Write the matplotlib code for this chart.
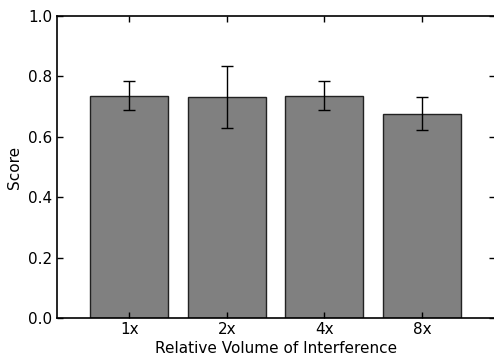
import matplotlib
matplotlib.use("Agg")
import matplotlib.pyplot as plt
import numpy as np

categories = ["1x", "2x", "4x", "8x"]
scores = [0.736, 0.733, 0.736, 0.676]
errors = [0.048, 0.103, 0.048, 0.055]
yticks = [0.0, 0.2, 0.4, 0.6, 0.8, 1.0]

fig = plt.figure(figsize=(4.94, 3.56), dpi=100)
ax = fig.add_axes([57/494, 38/356, 438/494, 302/356])
x = np.arange(len(categories))
ax.bar(x, scores, width=0.8, color="#808080", edgecolor="#222222", linewidth=1.0,
       yerr=errors, capsize=4, error_kw=dict(ecolor="black", elinewidth=1.0, capthick=1.0))
ax.set_xticks(x)
ax.set_xticklabels(categories, fontsize=11)
ax.set_yticks(yticks)
ax.set_yticklabels([f"{v:.1f}" for v in yticks], fontsize=11)
ax.set_xlim(-0.74, 3.75)
ax.set_ylim(0, 1.0)
ax.tick_params(direction="in", top=True, right=True, length=4, width=1)
ax.tick_params(axis="x", pad=3)
ax.set_xlabel("Relative Volume of Interference", fontsize=11, labelpad=3)
ax.set_ylabel("Score", fontsize=11)
for s in ax.spines.values():
    s.set_linewidth(1.2)
fig.savefig("out.png", dpi=100)
